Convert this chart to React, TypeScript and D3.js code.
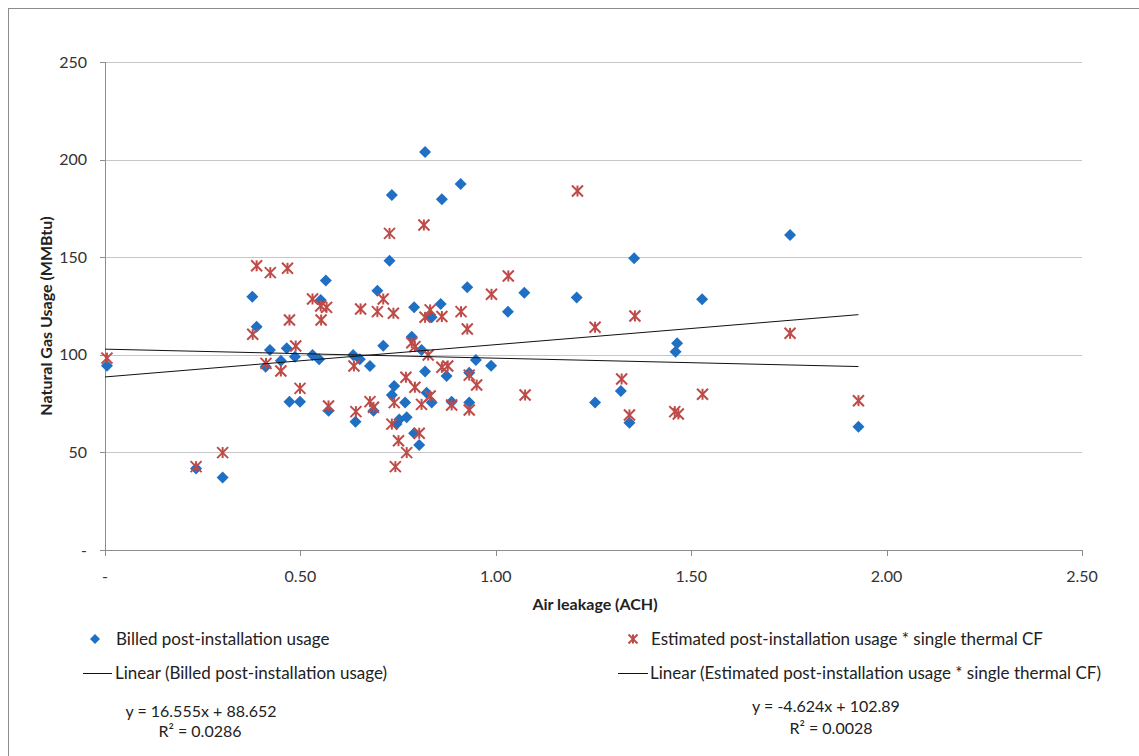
import React from "react";
import * as d3 from "d3";

const billedX = [0.005,0.233,0.301,0.377,0.388,0.411,0.422,0.450,0.465,0.472,0.486,0.499,0.531,0.548,0.552,0.565,0.572,0.635,0.641,0.652,0.678,0.687,0.697,0.712,0.728,0.734,0.734,0.740,0.746,0.753,0.768,0.772,0.785,0.791,0.791,0.804,0.810,0.819,0.819,0.823,0.836,0.836,0.859,0.862,0.874,0.887,0.910,0.927,0.932,0.932,0.949,0.988,1.031,1.073,1.207,1.254,1.320,1.342,1.354,1.460,1.464,1.528,1.753,1.928];
const billedY = [94.4,41.8,37.2,129.8,114.4,93.9,102.5,97.0,103.3,76.0,99.0,76.0,99.9,97.7,128.1,138.0,71.4,99.9,65.7,97.7,94.3,71.4,132.8,104.7,148.2,181.9,79.4,84.0,64.5,66.9,75.5,68.0,109.3,124.3,59.8,53.8,102.5,91.4,203.9,80.6,119.2,75.5,126.0,179.7,89.1,76.0,187.5,134.6,90.8,75.5,97.3,94.4,122.1,131.8,129.3,75.5,81.5,65.2,149.4,101.6,105.9,128.4,161.4,63.2];

const estX = [0.005,0.233,0.301,0.378,0.388,0.412,0.423,0.450,0.467,0.472,0.488,0.499,0.531,0.552,0.553,0.567,0.572,0.637,0.642,0.654,0.678,0.687,0.697,0.712,0.728,0.734,0.738,0.740,0.743,0.751,0.770,0.772,0.785,0.793,0.793,0.804,0.810,0.816,0.819,0.827,0.832,0.832,0.862,0.862,0.877,0.887,0.911,0.927,0.932,0.932,0.951,0.989,1.032,1.075,1.209,1.254,1.322,1.342,1.356,1.458,1.467,1.529,1.753,1.928];
const estY = [98.3,42.7,49.9,110.5,145.6,95.6,142.1,91.7,144.3,117.8,104.5,82.8,128.6,125.0,117.8,124.3,73.8,94.3,70.9,123.5,76.0,73.1,122.1,128.6,162.2,64.5,121.3,75.5,42.7,56.0,88.5,49.9,106.2,104.2,83.4,59.8,74.6,166.5,119.2,99.9,123.0,78.9,119.6,93.6,94.3,74.3,122.1,113.2,89.6,71.7,84.5,131.0,140.4,79.4,183.9,114.1,87.6,69.2,119.9,70.9,69.7,79.8,111.0,76.5];

const yTicks = [0, 50, 100, 150, 200, 250];
const xTicks = [0, 0.5, 1.0, 1.5, 2.0, 2.5];
const billedFit = { slope: 16.555, intercept: 88.652, r2: "0.0286" };
const estFit = { slope: -4.624, intercept: 102.89, r2: "0.0028" };

const BLUE = "#1F6FC4";
const RED = "#BE4B48";
const FONT = "Lato, 'Open Sans', sans-serif";

function Star({ cx, cy, s = 5.5 }: { cx: number; cy: number; s?: number }) {
  return (
    <g stroke={RED} strokeWidth={2} strokeLinecap="butt">
      <line x1={cx - s} y1={cy - s} x2={cx + s} y2={cy + s} />
      <line x1={cx - s} y1={cy + s} x2={cx + s} y2={cy - s} />
      <line x1={cx} y1={cy - s} x2={cx} y2={cy + s} />
    </g>
  );
}

function Diamond({ cx, cy, r = 6 }: { cx: number; cy: number; r?: number }) {
  return <path d={`M${cx},${cy - r}L${cx + r},${cy}L${cx},${cy + r}L${cx - r},${cy}Z`} fill={BLUE} />;
}

export default function App() {
  const x = d3.scaleLinear().domain([0, 2.5]).range([105, 1082]);
  const y = d3.scaleLinear().domain([0, 250]).range([550, 62]);
  const fmtX = (v: number) => (v === 0 ? "-" : d3.format(".2f")(v));
  const fmtY = (v: number) => (v === 0 ? "-" : String(v));
  const bMax = d3.max(billedX) as number;
  const eMax = d3.max(estX) as number;
  const line = d3.line<[number, number]>().x((d) => x(d[0])).y((d) => y(d[1]));
  const bLine = line([[0, billedFit.intercept], [bMax, billedFit.intercept + billedFit.slope * bMax]]);
  const eLine = line([[0, estFit.intercept], [eMax, estFit.intercept + estFit.slope * eMax]]);

  return (
    <svg width={1139} height={756} style={{ position: "absolute", left: 0, top: 0, background: "#fff" }} fontFamily={FONT}>
      <rect x={8.5} y={8.5} width={1140} height={760} fill="#fff" stroke="#8c8c8c" strokeWidth={1} />
      {yTicks.filter((t) => t > 0).map((t) => (
        <line key={t} x1={105} x2={1082} y1={Math.round(y(t)) + 0.5} y2={Math.round(y(t)) + 0.5} stroke="#c6c6c6" strokeWidth={1} />
      ))}
      <line x1={105.5} x2={105.5} y1={62} y2={551} stroke="#8c8c8c" />
      <line x1={105} x2={1082} y1={550.5} y2={550.5} stroke="#8c8c8c" />
      {yTicks.map((t) => (
        <g key={t}>
          <line x1={100} x2={105} y1={Math.round(y(t)) + 0.5} y2={Math.round(y(t)) + 0.5} stroke="#8c8c8c" />
          <text x={87} y={y(t)} dy="0.35em" textAnchor="end" fontSize={16} fill="#333">{fmtY(t)}</text>
        </g>
      ))}
      {xTicks.map((t) => (
        <g key={t}>
          <line x1={Math.round(x(t)) + 0.5} x2={Math.round(x(t)) + 0.5} y1={550} y2={556} stroke="#8c8c8c" />
          <text x={x(t)} y={576} dy="0.35em" textAnchor="middle" fontSize={16} fill="#333">{fmtX(t)}</text>
        </g>
      ))}
      <text x={595} y={604} dy="0.35em" textAnchor="middle" fontSize={16} fontWeight="bold" fill="#222">Air leakage (ACH)</text>
      <text transform="translate(46,316) rotate(-90)" dy="0.35em" textAnchor="middle" fontSize={16} fontWeight="bold" fill="#222">Natural Gas Usage (MMBtu)</text>
      {billedX.map((v, i) => (
        <Diamond key={"b" + i} cx={x(v)} cy={y(billedY[i])} />
      ))}
      {estX.map((v, i) => (
        <Star key={"e" + i} cx={x(v)} cy={y(estY[i])} />
      ))}
      <path d={bLine as string} stroke="#111" strokeWidth={1} fill="none" />
      <path d={eLine as string} stroke="#111" strokeWidth={1} fill="none" />
      <Diamond cx={95} cy={639} r={5} />
      <text x={116} y={639} dy="0.35em" fontSize={17} fill="#222">Billed post-installation usage</text>
      <Star cx={633} cy={639} s={4.5} />
      <text x={651} y={639} dy="0.35em" fontSize={17} fill="#222">Estimated post-installation usage * single thermal CF</text>
      <line x1={83} x2={112} y1={673.5} y2={673.5} stroke="#111" />
      <text x={115} y={673} dy="0.35em" fontSize={17} fill="#222">Linear (Billed post-installation usage)</text>
      <line x1={618} x2={648} y1={673.5} y2={673.5} stroke="#111" />
      <text x={650} y={673} dy="0.35em" fontSize={17} fill="#222">Linear (Estimated post-installation usage * single thermal CF)</text>
      <text x={201} y={711} dy="0.35em" textAnchor="middle" fontSize={16} fill="#222">{`y = ${billedFit.slope}x + ${billedFit.intercept}`}</text>
      <text x={200} y={731} dy="0.35em" textAnchor="middle" fontSize={16} fill="#222">{`R² = ${billedFit.r2}`}</text>
      <text x={826} y={706} dy="0.35em" textAnchor="middle" fontSize={16} fill="#222">{`y = ${estFit.slope}x + ${estFit.intercept}`}</text>
      <text x={831} y={728} dy="0.35em" textAnchor="middle" fontSize={16} fill="#222">{`R² = ${estFit.r2}`}</text>
    </svg>
  );
}
